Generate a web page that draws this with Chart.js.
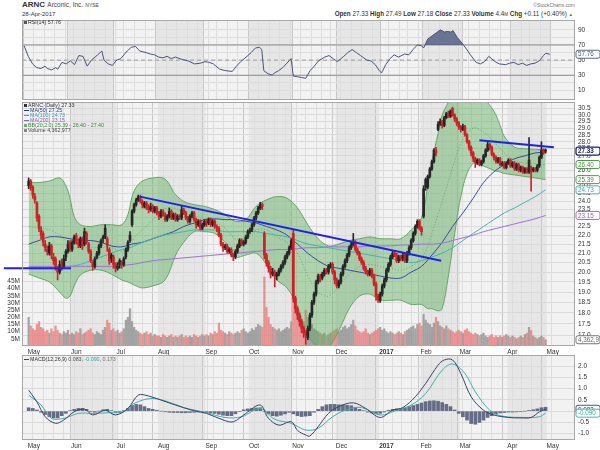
<!DOCTYPE html>
<html>
<head>
<meta charset="utf-8">
<script src="https://cdn.jsdelivr.net/npm/chart.js@4.4.1/dist/chart.umd.min.js"></script>
<style>
  body { margin: 0; width: 600px; height: 450px; background: #fff; position: relative; overflow: hidden;
         font-family: "Liberation Sans", Arial, sans-serif; color: #333; }
  canvas { position: absolute; left: 0; }
  .txt { position: absolute; white-space: nowrap; line-height: 1; }
  .sw { display: inline-block; width: 5px; height: 1.4px; vertical-align: middle; margin-right: 1px; }
  .sq { display: inline-block; width: 3px; height: 3px; vertical-align: middle; margin-right: 1px; }
</style>
</head>
<body>
<div class="txt" style="left:22px;top:1px;font-size:8px;"><b>ARNC</b> <span style="font-size:6.5px;color:#444">Arconic, Inc.</span> <span style="font-size:5px;color:#444">NYSE</span></div>
<div class="txt" style="left:22px;top:10.5px;font-size:6px;">28-Apr-2017</div>
<div class="txt" style="right:25px;top:2.5px;font-size:5px;color:#777;">&copy;StockCharts.com</div>
<div class="txt" style="right:27px;top:10.5px;font-size:6.3px;"><b>Open</b> 27.33 <b>High</b> 27.49 <b>Low</b> 27.18 <b>Close</b> 27.33 <b>Volume</b> 4.4<span style="font-size:4.5px">M</span> <b>Chg</b> +0.11 (+0.40%) <span style="color:#2a9a2a;font-size:4.5px">&#9650;</span></div>

<canvas id="rsi" width="600" height="100" style="top:0"></canvas>
<canvas id="price" width="600" height="258" style="top:100px"></canvas>
<canvas id="macd" width="600" height="95" style="top:355px"></canvas>

<div class="txt" style="left:24px;top:20px;font-size:5.3px;color:#333;"><span class="sq" style="background:#556"></span>RSI(14) 57.76</div>
<div class="txt" style="left:24px;top:103px;font-size:5.3px;line-height:4.9px;">
  <div><span class="sq" style="background:#333"></span>ARNC (Daily) 27.33</div>
  <div style="color:#2b3a94"><span class="sw" style="background:#2b3a94"></span>MA(50) 27.25</div>
  <div style="color:#3aa6a6"><span class="sw" style="background:#3aa6a6"></span>MA(100) 24.73</div>
  <div style="color:#9060c8"><span class="sw" style="background:#9060c8"></span>MA(200) 23.15</div>
  <div style="color:#3a8a3a"><span class="sq" style="background:#6ab06a"></span>BB(20,2.0) 25.39 - 26.40 - 27.40</div>
  <div style="color:#444"><span class="sq" style="background:#888"></span>Volume 4,362,977</div>
</div>
<div class="txt" style="left:24px;top:357px;font-size:5.3px;color:#333;"><span class="sw" style="background:#3c4466"></span>MACD(12,26,9) <span style="color:#555">0.083</span>, <span style="color:#3aaaa2">-0.090</span>, <span style="color:#777">0.173</span></div>

<script>
// ---- time axis (trading-day index, day 0 = 2-May-2016) ----
const monthLabels   = ['May','Jun','Jul','Aug','Sep','Oct','Nov','Dec','2017','Feb','Mar','Apr','May'];
const monthStartDay = [0,21,43,63,86,107,128,149,170,190,209,232,251];
const weekStartDay  = [0,5,10,15,20,24,29,34,39,44,48,53,58,63,68,73,78,83,88,92,97,102,107,112,117,122,127,
                       132,137,142,146,151,156,161,166,170,174,179,183,188,193,198,203,207,212,217,222,227,232,237,241,246,251];

// ---- daily candles ----
const opens = [
 25.0,25.3,24.9,24.3,23.9,23.1,22.3,22.1,21.5,21.2,21.0,21.4,20.8,20.7,20.2,20.0,20.5,20.3,20.8,21.1,21.6,
 21.2,21.6,22.0,21.6,21.4,21.8,21.5,22.1,21.5,21.1,20.5,20.3,20.8,21.0,21.4,21.8,21.9,21.8,21.2,20.7,20.8,20.4,
 20.2,20.4,20.5,20.4,20.8,21.2,21.7,22.6,23.4,23.8,24.1,24.3,24.0,23.7,23.9,23.6,23.5,23.7,23.4,23.6,
 23.3,23.1,23.4,23.2,22.9,23.1,23.4,23.0,23.2,22.9,23.1,23.0,23.5,23.3,23.0,22.8,23.1,23.3,22.9,22.6,22.8,22.4,22.6,
 22.8,22.7,22.9,22.6,22.8,22.5,22.4,22.0,21.5,21.3,21.4,21.1,21.2,20.9,20.8,21.1,21.4,21.7,21.5,21.6,21.9,
 22.2,22.3,22.6,23.0,23.3,23.6,23.8,22.1,20.9,20.5,20.2,19.9,20.0,19.8,19.9,20.1,20.3,20.5,20.8,21.0,21.3,
 22.1,18.7,18.2,17.9,17.6,17.3,17.1,16.9,17.3,17.9,18.5,18.9,19.5,19.8,19.7,19.9,20.1,20.0,20.3,20.4,20.0,
 19.6,19.3,19.5,19.9,20.3,20.6,20.9,21.3,21.5,21.6,21.2,21.0,20.7,20.5,20.2,20.0,19.9,20.1,19.8,19.4,18.8,
 18.6,18.9,19.3,19.6,20.1,20.4,20.8,21.0,20.9,20.6,20.8,20.7,20.9,20.6,21.0,21.3,21.7,22.1,22.5,22.8,
 22.4,23.1,25.4,24.9,25.6,26.1,26.6,27.4,28.9,29.3,29.5,29.2,29.8,30.1,29.9,30.5,30.0,29.7,29.4,
 29.1,28.9,29.1,28.5,28.0,27.6,27.2,26.8,26.5,26.7,26.4,26.6,27.0,27.4,27.8,27.6,27.1,26.9,26.6,26.8,26.4,26.5,26.2,
 26.5,26.7,26.3,26.5,26.1,26.4,26.0,26.2,25.9,26.1,25.9,26.2,26.0,26.1,26.0,26.3,26.9,27.4,27.33];
const highs = [
 25.5,25.4,25.0,24.5,24.0,23.2,22.5,22.2,21.7,21.4,21.6,21.5,21.0,20.8,20.3,20.6,20.7,20.9,21.2,21.7,21.7,
 21.7,22.0,22.1,21.8,21.9,21.9,22.4,22.2,21.6,21.2,20.6,20.8,21.1,21.5,21.8,22.0,22.6,21.9,21.3,21.0,20.9,20.5,
 20.5,20.7,20.6,20.8,21.3,21.7,22.2,23.5,23.9,24.2,24.4,24.4,24.1,24.0,24.0,23.8,23.9,23.8,23.7,23.7,
 23.4,23.5,23.5,23.3,23.2,23.6,23.5,23.3,23.3,23.2,23.2,23.7,23.6,23.4,23.1,23.2,23.4,23.4,23.0,22.9,22.9,22.7,22.9,
 22.9,23.0,23.0,22.9,22.9,22.6,22.5,22.1,21.6,21.5,21.5,21.3,21.3,21.0,21.2,21.5,21.8,21.8,21.7,22.0,22.3,
 22.4,22.7,23.1,23.4,23.7,23.95,23.9,22.2,21.0,20.6,20.3,20.2,20.1,20.0,20.2,20.4,20.6,20.9,21.1,21.4,21.8,
 22.3,18.8,18.3,18.0,17.7,17.4,17.2,17.4,18.0,18.6,19.0,19.6,19.9,19.9,20.0,20.2,20.2,20.4,20.5,20.5,20.1,
 19.7,19.6,20.0,20.4,20.7,21.0,21.4,21.6,22.1,21.7,21.3,21.1,20.8,20.6,20.3,20.1,20.2,20.2,19.9,19.5,18.9,
 19.0,19.4,19.7,20.2,20.5,20.9,21.1,21.1,21.0,20.9,20.9,21.0,21.0,21.1,21.4,21.8,22.2,22.6,22.9,22.9,
 22.5,25.0,25.5,25.7,26.2,26.7,27.5,27.6,29.5,29.7,29.6,29.9,30.2,30.3,30.4,30.6,30.1,29.8,29.5,
 29.2,29.3,29.2,28.6,28.1,27.7,27.3,26.9,26.8,26.8,26.7,27.1,27.5,28.0,27.9,27.7,27.2,27.0,26.9,26.9,26.6,26.6,26.6,
 26.8,26.8,26.6,26.6,26.5,26.5,26.3,26.3,26.2,26.2,28.3,26.3,26.2,26.2,26.4,27.0,28.0,27.5,27.49];
const lows = [
 24.8,24.7,24.2,23.9,22.8,22.2,21.8,21.4,21.1,20.9,20.9,20.7,20.4,20.1,19.6,19.9,20.1,20.2,20.6,21.0,21.1,
 21.1,21.5,21.5,21.3,21.3,21.2,21.4,21.5,21.0,20.5,20.1,20.2,20.7,20.9,21.3,21.6,21.8,21.1,20.4,20.5,20.2,20.0,
 20.1,20.2,20.2,20.3,20.7,21.1,21.6,22.5,23.3,23.7,24.0,23.9,23.6,23.6,23.5,23.3,23.4,23.3,23.3,23.2,
 22.9,23.0,23.1,22.8,22.8,23.0,22.9,22.9,22.8,22.8,22.9,22.9,23.2,22.9,22.7,22.7,23.0,22.8,22.4,22.5,22.3,22.3,22.5,
 22.5,22.6,22.5,22.5,22.4,22.2,21.9,21.4,21.1,21.2,21.0,21.0,20.8,20.6,20.7,21.0,21.3,21.4,21.4,21.5,21.8,
 22.1,22.2,22.5,22.9,23.2,23.5,23.5,20.7,20.3,20.0,19.7,19.8,19.25,19.6,19.8,20.0,20.2,20.4,20.7,20.9,21.2,
 18.5,18.0,17.7,17.4,17.1,16.9,16.6,16.8,17.2,17.8,18.4,18.8,19.4,19.5,19.6,19.8,19.9,19.9,20.2,19.9,19.4,
 19.2,19.2,19.4,19.8,20.2,20.5,20.8,21.2,21.4,21.1,20.9,20.6,20.4,20.1,19.9,19.8,19.8,19.7,19.3,18.6,18.5,
 18.5,18.8,19.2,19.5,20.0,20.3,20.7,20.8,20.5,20.5,20.6,20.6,20.5,20.5,20.9,21.2,21.6,22.0,22.4,22.3,
 22.0,23.0,24.7,24.8,25.5,26.0,26.5,27.0,28.8,29.2,29.0,29.1,29.7,29.8,29.8,29.9,29.5,29.2,28.9,
 28.7,28.8,28.4,27.9,27.4,27.0,26.6,26.2,26.4,26.3,26.3,26.5,26.9,27.3,27.4,27.0,26.7,26.5,26.5,26.3,26.3,26.1,26.1,
 26.4,26.2,26.2,26.0,26.0,25.9,25.9,25.8,25.8,25.8,25.8,24.65,25.9,25.9,25.9,26.2,26.8,27.1,27.18];
const closes = [
 25.3,24.9,24.4,24.1,23.0,22.4,22.0,21.6,21.3,21.1,21.4,20.9,20.6,20.3,20.0,20.4,20.3,20.7,21.1,21.5,21.3,
 21.6,21.9,21.7,21.5,21.8,21.4,22.2,21.6,21.1,20.6,20.3,20.7,21.0,21.4,21.7,21.9,22.4,21.4,20.6,20.9,20.4,20.2,
 20.3,20.6,20.4,20.7,21.2,21.6,22.0,23.4,23.8,24.1,24.3,24.0,23.8,23.9,23.6,23.5,23.7,23.4,23.6,23.3,
 23.1,23.4,23.2,22.9,23.1,23.4,23.0,23.2,22.9,23.1,23.0,23.5,23.3,23.0,22.8,23.1,23.3,22.9,22.6,22.8,22.4,22.6,22.8,
 22.7,22.9,22.6,22.8,22.5,22.4,22.0,21.5,21.3,21.4,21.1,21.2,20.9,20.8,21.1,21.4,21.7,21.5,21.6,21.9,22.2,
 22.3,22.6,23.0,23.3,23.6,23.8,23.7,20.9,20.5,20.2,19.9,20.0,19.8,19.9,20.1,20.3,20.5,20.8,21.0,21.3,21.7,
 18.7,18.2,17.9,17.6,17.3,17.1,17.0,17.3,17.9,18.5,18.9,19.5,19.8,19.7,19.9,20.1,20.0,20.3,20.4,20.0,19.6,
 19.3,19.5,19.9,20.3,20.6,20.9,21.3,21.5,21.6,21.2,21.0,20.7,20.5,20.2,20.0,19.9,20.1,19.8,19.4,18.8,18.6,
 18.9,19.3,19.6,20.1,20.4,20.8,21.0,20.9,20.6,20.8,20.7,20.9,20.6,21.0,21.3,21.7,22.1,22.5,22.8,22.4,
 22.2,24.8,24.9,25.6,26.1,26.6,27.4,27.2,29.3,29.5,29.2,29.8,30.1,29.9,30.3,30.0,29.7,29.4,29.1,
 28.9,29.1,28.5,28.0,27.6,27.2,26.8,26.5,26.7,26.4,26.6,27.0,27.4,27.8,27.6,27.1,26.9,26.6,26.8,26.4,26.5,26.2,26.5,
 26.7,26.3,26.5,26.1,26.4,26.0,26.2,25.9,26.1,25.9,26.7,26.0,26.1,26.0,26.3,26.9,27.4,27.22,27.33];
// volume, millions
const volumes = [
 20,14,12,11,15,17,13,12,10,11,9,12,10,14,11,9,8,10,9,11,8,
 9,8,10,9,12,8,9,10,11,12,9,8,10,9,8,11,13,18,16,11,12,10,
 11,9,10,12,18,20,26,17,13,11,10,9,8,9,10,8,9,7,8,7,
 7,6,8,7,6,7,8,6,7,6,7,8,6,7,6,7,6,8,7,6,7,8,7,
 8,7,9,8,10,9,16,11,10,9,8,10,9,8,9,10,9,11,12,10,9,
 10,12,11,13,15,14,13,48,27,20,15,13,12,11,12,10,11,12,13,12,17,
 38,28,22,20,18,17,25,20,16,15,12,11,10,9,8,9,7,8,9,10,11,
 12,10,11,13,14,12,13,15,18,14,11,10,9,10,12,9,8,9,10,11,12,
 13,11,12,10,9,10,9,8,9,10,9,8,10,11,12,13,14,12,15,16,
 14,22,18,16,15,13,16,20,17,14,13,12,14,12,11,10,9,10,11,
 10,9,11,12,10,9,8,9,8,7,8,9,7,6,7,8,6,7,6,7,6,7,8,
 7,6,7,6,5,6,7,6,8,9,13,11,7,6,5,6,7,6,4.36];

// ---- overlays ----
const lineDays = [0,5,10,15,20,25,30,35,40,45,50,55,60,65,70,75,80,85,90,95,100,105,110,115,120,125,
                  130,135,140,145,150,155,160,165,170,175,180,185,190,195,200,205,210,215,220,225,230,235,240,245,250];
const ma50  = [21.5,21.7,21.9,21.9,21.8,21.7,21.7,21.6,21.4,21.35,21.5,21.6,21.8,22.0,22.2,22.5,22.7,22.9,22.95,22.9,
               22.9,22.8,22.7,22.5,22.3,22.0,21.5,21.0,20.6,20.3,20.2,20.1,20.0,19.9,19.8,19.7,19.7,20.0,20.3,20.9,
               21.6,22.5,23.3,24.2,25.2,25.9,26.4,26.8,27.0,27.2,27.25];
const ma100 = [20.2,20.2,20.2,20.3,20.3,20.4,20.6,20.8,21.0,21.2,21.35,21.6,21.8,22.0,22.1,22.2,22.3,22.3,22.3,22.2,
               22.2,22.2,22.2,22.1,22.0,21.9,21.7,21.5,21.4,21.3,21.2,21.1,21.0,20.9,20.8,20.7,20.6,20.5,20.6,20.8,
               21.0,21.3,21.7,22.1,22.5,22.9,23.3,23.6,23.95,24.3,24.73];
const ma200 = [20.3,20.3,20.3,20.3,20.3,20.3,20.3,20.3,20.3,20.35,20.4,20.5,20.6,20.65,20.7,20.75,20.8,20.85,20.9,20.95,
               21.0,21.05,21.1,21.15,21.2,21.2,21.25,21.3,21.3,21.35,21.35,21.35,21.35,21.4,21.4,21.4,21.45,21.45,21.5,21.5,
               21.55,21.7,21.85,22.0,22.2,22.35,22.5,22.65,22.8,22.95,23.15];
const bbDays  = [0,5,10,15,18,20,22,25,30,35,40,45,48,50,52,55,60,65,68,70,72,75,80,85,90,95,100,105,110,115,
                 120,125,130,135,140,145,150,155,160,165,170,175,180,185,190,193,195,198,200,203,205,210,215,220,225,228,230,235,240,245,250];
const bbUpper = [25.2,25.2,25.3,25.5,25.0,24.2,23.1,22.6,22.5,22.6,22.6,22.6,23.2,24.3,24.9,25.3,25.5,25.5,25.1,24.6,
                 24.3,24.0,23.8,23.7,23.5,23.2,22.8,22.9,23.7,24.1,24.3,24.2,23.6,22.6,21.8,21.4,21.5,21.7,21.8,21.9,
                 21.8,21.8,21.8,22.3,23.0,25.0,26.6,28.6,30.0,31.0,31.6,32.0,31.8,31.3,30.3,29.2,28.4,27.6,27.5,27.45,27.40];
const bbMid   = [22.5,22.4,22.3,22.0,21.7,21.5,21.3,21.3,21.3,21.3,21.3,21.1,21.3,21.6,22.0,22.3,22.9,23.5,23.6,23.6,
                 23.5,23.3,23.1,23.0,22.8,22.4,21.8,21.8,22.3,22.3,21.9,21.6,21.0,19.8,19.0,18.8,19.3,19.9,20.3,20.4,
                 20.3,20.2,20.1,20.3,20.7,21.4,22.1,23.2,24.0,25.3,26.2,28.2,29.0,28.7,28.0,27.5,27.2,26.7,26.5,26.45,26.40];
const bbLower = [19.9,19.7,19.5,19.0,18.7,18.8,19.3,19.85,20.1,20.1,19.9,19.6,19.5,19.4,19.3,19.2,19.3,19.5,20.0,20.6,
                 21.1,21.6,22.2,22.2,22.1,21.6,20.8,20.9,21.0,20.4,19.6,19.2,18.3,17.0,16.5,16.5,17.2,18.2,18.8,18.9,
                 18.6,18.6,18.6,18.4,18.4,18.2,18.2,18.1,18.2,19.8,21.3,24.9,26.5,26.3,26.0,25.9,25.8,25.7,25.6,25.5,25.39];
// drawn trend lines: [startDay, startPrice, endDay, endPrice]
const trendLines = [[53.8, 24.3, 199.5, 20.6], [218, 28.1, 254, 27.6], [-12, 20.2, 20.5, 20.2]];

// ---- RSI(14) ----
const rsiDays = [0,1,2,4,6,8,10,11,13,15,16,18,20,22,24,26,28,30,32,35,37,38,40,42,44,46,49,51,53,55,58,60,62,64,66,68,70,72,75,78,
  81,84,86,88,90,93,96,99,101,103,106,108,110,112,113,114,116,118,119,121,123,125,127,128,130,132,134,136,138,140,
  143,145,147,149,152,154,156,158,160,163,165,167,169,170,172,174,176,178,181,183,185,187,189,190,192,194,196,198,200,201,
  203,204,206,209,212,215,217,219,221,224,226,229,231,233,235,237,239,241,243,245,247,248,250];
const rsiValues = [69,62,55,45,40,39,42,39,37,40,38,47,45,49,44,56,55,42,50,57,62,50,45,43,50,52,62,67,68,62,60,58,57,54,53,55,52,54,51,49,
  45,46,48,47,45,38,36,35,42,48,55,60,66,67,64,36,32,30,33,36,40,46,52,29,28,27,26,36,42,49,
  54,56,52,48,55,60,64,60,56,50,49,44,36,33,44,52,57,54,58,57,64,70,69,66,78,82,86,90,87,88,
  87,89,80,70,58,47,45,48,55,48,45,44,46,47,44,46,43,45,46,49,56,59,57.76];
const rsiLevels = [30, 50, 70];

// ---- MACD(12,26,9) ----
const macdDays = [0,4,8,13,17,22,27,31,37,42,48,53,58,64,71,79,86,94,99,105,112,116,121,127,130,134,136,140,145,150,
                  157,163,170,176,181,187,192,198,201,205,209,214,220,225,232,238,243,247,250];
const macdValues = [0.93,0.41,-0.25,-0.54,-0.39,-0.03,0.09,-0.17,0.04,-0.17,0.12,0.71,0.67,0.49,0.27,0.04,-0.10,-0.39,-0.47,-0.10,
                    0.27,-0.32,-0.62,-0.47,-0.85,-1.06,-1.10,-0.69,-0.10,0.20,0.37,0.12,-0.28,0.04,0.16,0.64,1.23,2.04,2.27,2.27,
                    1.67,0.64,0.04,-0.17,-0.28,-0.30,-0.28,-0.03,0.083];
const signalDays = [0,6,11,17,24,31,39,46,51,59,66,75,86,95,103,112,119,127,134,140,147,154,161,170,178,185,192,200,205,211,
                    216,223,229,240,247,250];
const signalValues = [0.71,0.27,-0.32,-0.32,-0.10,-0.10,-0.07,-0.03,0.34,0.56,0.46,0.16,-0.07,-0.28,-0.25,0.12,-0.36,-0.54,-0.84,-0.76,
                      -0.25,0.07,0.16,-0.17,0.04,0.27,0.78,1.82,2.09,1.67,0.86,0.04,-0.22,-0.28,-0.25,-0.090];
// histogram, one bar every second day from day 0
const histValues = [0.15,0.12,0.05,-0.05,-0.15,-0.25,-0.30,-0.30,-0.20,-0.10,
  0.02,0.08,0.12,0.12,0.08,-0.02,-0.05,0.00,0.06,0.08,
  0.02,-0.05,-0.04,0.02,0.12,0.25,0.30,0.28,0.20,0.12,
  0.08,0.04,0.00,-0.03,-0.05,-0.06,-0.06,-0.07,-0.07,-0.06,
  -0.05,-0.04,-0.04,-0.05,-0.08,-0.10,-0.14,-0.18,-0.20,-0.20,
  -0.12,-0.02,0.06,0.10,0.12,0.14,0.15,0.00,-0.12,-0.20,
  -0.22,-0.18,-0.12,-0.05,-0.12,-0.20,-0.24,-0.22,-0.20,-0.05,
  0.08,0.20,0.28,0.30,0.30,0.28,0.28,0.26,0.24,0.16,
  0.08,0.02,-0.04,-0.08,-0.10,-0.10,-0.04,0.04,0.08,0.10,
  0.10,0.14,0.20,0.25,0.30,0.36,0.42,0.45,0.46,0.44,
  0.38,0.30,0.20,0.05,-0.10,-0.25,-0.40,-0.55,-0.58,-0.50,
  -0.40,-0.28,-0.20,-0.12,-0.08,-0.06,-0.04,-0.04,-0.03,-0.02,
  0.00,0.03,0.06,0.10,0.15,0.173];

// ---- axis ticks ----
const priceTicks = [17,17.5,18,18.5,19,19.5,20,20.5,21,21.5,22,22.5,23,23.5,24,24.5,25,25.5,26,26.5,27,27.5,28,28.5,29,29.5,30,30.5];
const volumeTicks = [5,10,15,20,25,30,35,40,45];
const rsiTicks = [10,20,30,40,50,60,70,80,90];
const macdTicks = [-1,-0.5,0,0.5,1,1.5,2];

// ---- value tags on the right edge ----
const priceTags = [
  {axis: 'y', value: 27.33, text: '27.33', color: '#1d2260', bold: true},
  {axis: 'y', value: 26.40, text: '26.40', color: '#3f8f3f'},
  {axis: 'y', value: 25.39, text: '25.39', color: '#3f8f3f'},
  {axis: 'y', value: 24.73, text: '24.73', color: '#38a3a3'},
  {axis: 'y', value: 23.15, text: '23.15', color: '#9060c8'},
  {axis: 'yv', value: 4.36, text: '4,362,977', color: '#666'}];
const rsiTags = [{axis: 'y', value: 57.76, text: '57.76', color: '#4a5678'}];
const macdTags = [{axis: 'y', value: 0.083, text: '0.083', color: '#3c4466'},
                  {axis: 'y', value: -0.090, text: '-0.090', color: '#3aaaa2'}];

// ================= drawing =================
Chart.defaults.font.family = '"Liberation Sans", Arial, sans-serif';
Chart.defaults.font.size = 6.5;
Chart.defaults.color = '#333';
Chart.defaults.animation = false;
Chart.defaults.plugins.legend.display = false;
Chart.defaults.plugins.tooltip.enabled = false;
Chart.defaults.elements.point.radius = 0;

const gridDays = [...new Set([...weekStartDay, ...monthStartDay])].sort((a, b) => a - b);
const days = closes.map((_, i) => i);
const pts = (xs, ys) => xs.map((x, i) => ({x: x, y: ys[i]}));
const isUp = closes.map((c, i) => i === 0 ? c >= opens[i] : c >= closes[i - 1]);
const candleColor = isUp.map(u => u ? '#262626' : '#cf2027');
const volColor = isUp.map(u => u ? 'rgba(150,150,150,0.85)' : 'rgba(232,125,125,0.8)');

function monthIdx(v) { return monthStartDay.indexOf(v + 0.5); }
function tickMonth(c) { return c && c.tick ? monthIdx(c.tick.value) : -1; }

function xScale(showLabels, h) {
  return {
    type: 'linear', min: -1, max: 262, bounds: 'data',
    afterBuildTicks: s => { s.ticks = gridDays.map(d => ({value: d - 0.5})); },
    afterFit: s => { s.height = h; s.paddingLeft = 0; s.paddingRight = 0; },
    grid: {color: c => tickMonth(c) >= 0 ? '#c8c8c8' : '#dddddd', drawTicks: false},
    border: {display: false, color: '#c8c8c8'},
    ticks: {
      display: showLabels, autoSkip: false, maxRotation: 0, align: 'start', padding: 2,
      callback: v => { const k = monthIdx(v); return k < 0 ? '' : monthLabels[k]; },
      font: c => ({size: 6.5, weight: monthLabels[tickMonth(c)] === '2017' ? 'bold' : 'normal'})
    }
  };
}

function yFit(w) { return s => { s.width = w; s.paddingTop = 0; s.paddingBottom = 0; }; }

const panelBg = {
  id: 'panelBg',
  beforeDraw(chart) {
    const {ctx, chartArea: a} = chart;
    const x = chart.scales.x;
    ctx.save();
    ctx.fillStyle = '#f2f2f2';
    ctx.fillRect(a.left, a.top, a.width, a.height);
    ctx.fillStyle = '#e6e6e6';
    for (let i = 1; i < monthStartDay.length - 1; i += 2) {
      const x0 = x.getPixelForValue(monthStartDay[i] - 0.5);
      const x1 = Math.min(x.getPixelForValue(monthStartDay[i + 1] - 0.5), a.right);
      ctx.fillRect(x0, a.top, x1 - x0, a.height);
    }
    ctx.restore();
  },
  afterDatasetsDraw(chart) {
    const {ctx, chartArea: a} = chart;
    ctx.save();
    ctx.strokeStyle = '#a8a8a8';
    ctx.lineWidth = 1;
    ctx.strokeRect(a.left + 0.5, a.top + 0.5, a.width - 1, a.height - 1);
    ctx.restore();
  }
};

function tagPlugin(tags) {
  return {
    id: 'tags',
    afterDraw(chart) {
      const ctx = chart.ctx, a = chart.chartArea;
      tags.forEach(t => {
        const y = chart.scales[t.axis].getPixelForValue(t.value);
        ctx.save();
        ctx.font = (t.bold ? 'bold ' : '') + '6.3px "Liberation Sans", Arial, sans-serif';
        const w = 24, h = 8, x = a.right + 1;
        ctx.beginPath();
        if (ctx.roundRect) ctx.roundRect(x, y - h / 2, w, h, 2); else ctx.rect(x, y - h / 2, w, h);
        ctx.fillStyle = '#fff';
        ctx.fill();
        ctx.lineWidth = t.bold ? 1.3 : 0.9;
        ctx.strokeStyle = t.color;
        ctx.stroke();
        ctx.fillStyle = t.color;
        ctx.textBaseline = 'middle';
        ctx.textAlign = 'left';
        ctx.fillText(t.text, x + 2, y + 0.5);
        ctx.restore();
      });
    }
  };
}

const common = {responsive: false, devicePixelRatio: 1, animation: false};

// ---- RSI panel ----
new Chart(document.getElementById('rsi'), {
  type: 'line',
  data: {
    datasets: [
      ...rsiLevels.map(v => ({
        data: [{x: -1, y: v}, {x: 262, y: v}], borderColor: v === 50 ? '#9a9a9a' : '#8a8a8a',
        borderWidth: 1, borderDash: v === 50 ? [4, 3] : [], order: 5
      })),
      {data: pts(rsiDays, rsiValues), borderColor: '#4a5678', borderWidth: 1, tension: 0,
       fill: {target: {value: 70}, above: 'rgba(78,88,128,0.8)', below: 'rgba(0,0,0,0)'}, order: 1}
    ]
  },
  options: {
    ...common,
    layout: {autoPadding: false, padding: {top: 20, left: 22, right: 0, bottom: 0}},
    scales: {
      x: xScale(false, 0),
      y: {
        position: 'right', min: -2.7, max: 103, bounds: 'data',
        afterBuildTicks: s => { s.ticks = rsiTicks.map(v => ({value: v})); },
        afterFit: yFit(25),
        grid: {color: '#dddddd', drawTicks: false}, border: {display: false},
        ticks: {padding: 3, autoSkip: false, callback: v => (v % 20 === 10 ? String(v) : '')}
      }
    }
  },
  plugins: [panelBg, tagPlugin(rsiTags)]
});

// ---- price panel ----
const lineDs = (xs, ys, color, extra) => Object.assign({
  type: 'line', data: pts(xs, ys), borderColor: color, borderWidth: 1, tension: 0.35, yAxisID: 'y'
}, extra || {});

new Chart(document.getElementById('price'), {
  type: 'bar',
  data: {
    datasets: [
      lineDs(bbDays, bbUpper, '#5e9e5e', {fill: '+1', backgroundColor: 'rgba(92,172,92,0.45)', borderWidth: 0.9, order: 8}),
      lineDs(bbDays, bbLower, '#5e9e5e', {borderWidth: 0.9, order: 8}),
      lineDs(bbDays, bbMid, '#5e9e5e', {borderWidth: 0.8, borderDash: [1, 2], order: 7}),
      lineDs(lineDays, ma200, '#a070d8', {order: 6}),
      lineDs(lineDays, ma100, '#48b2b0', {order: 6}),
      lineDs(lineDays, ma50, '#3a4a9e', {order: 6}),
      {type: 'bar', yAxisID: 'yv', data: days.map(i => ({x: i, y: volumes[i]})),
       backgroundColor: volColor, barThickness: 1.6, grouped: false, order: 10},
      {type: 'bar', yAxisID: 'y', data: days.map(i => ({x: i, y: [lows[i], highs[i]]})),
       backgroundColor: candleColor, barThickness: 1, grouped: false, order: 3},
      {type: 'bar', yAxisID: 'y', data: days.map(i => ({x: i, y: [opens[i], closes[i]]})),
       backgroundColor: candleColor, barThickness: 2, minBarLength: 1, grouped: false, order: 2},
      ...trendLines.map(t => lineDs([t[0], t[2]], [t[1], t[3]], '#1f1ff0', {
        borderWidth: 2, tension: 0, order: 1, clip: {left: false, top: 0, right: 0, bottom: 0}
      }))
    ]
  },
  options: {
    ...common,
    layout: {autoPadding: false, padding: {top: 2, left: 0, right: 0, bottom: 0}},
    scales: {
      x: xScale(true, 12),
      y: {
        type: 'logarithmic', position: 'right', min: 16.53, max: 31.02, bounds: 'data',
        afterBuildTicks: s => { s.ticks = priceTicks.map(v => ({value: v})); },
        afterFit: yFit(25),
        grid: {color: '#dadada', drawTicks: false}, border: {display: false},
        ticks: {padding: 3, autoSkip: false, callback: v => Number(v).toFixed(1)}
      },
      yv: {
        type: 'linear', position: 'left', min: 0, max: 170, bounds: 'data',
        afterBuildTicks: s => { s.ticks = volumeTicks.map(v => ({value: v})); },
        afterFit: yFit(22),
        grid: {display: false, drawTicks: false}, border: {display: false},
        ticks: {padding: 2, autoSkip: false, callback: v => v + 'M'}
      }
    }
  },
  plugins: [panelBg, tagPlugin(priceTags)]
});

// ---- MACD panel ----
new Chart(document.getElementById('macd'), {
  type: 'bar',
  data: {
    datasets: [
      {type: 'bar', data: histValues.map((v, i) => ({x: i * 2, y: v})), backgroundColor: 'rgba(78,86,118,0.85)',
       barThickness: 3, grouped: false, order: 3},
      {type: 'line', data: pts(signalDays, signalValues), borderColor: '#40b0a8', borderWidth: 1, tension: 0.35, order: 2},
      {type: 'line', data: pts(macdDays, macdValues), borderColor: '#3c4466', borderWidth: 1, tension: 0.35, order: 1}
    ]
  },
  options: {
    ...common,
    layout: {autoPadding: false, padding: {top: 0, left: 22, right: 0, bottom: 0}},
    scales: {
      x: xScale(true, 10),
      y: {
        position: 'right', min: -1.28, max: 2.49, bounds: 'data',
        afterBuildTicks: s => { s.ticks = macdTicks.map(v => ({value: v})); },
        afterFit: yFit(25),
        grid: {color: '#dadada', drawTicks: false}, border: {display: false},
        ticks: {padding: 3, autoSkip: false, callback: v => (v === 0 ? '' : Number(v).toFixed(1))}
      }
    }
  },
  plugins: [panelBg, tagPlugin(macdTags)]
});
</script>
</body>
</html>
